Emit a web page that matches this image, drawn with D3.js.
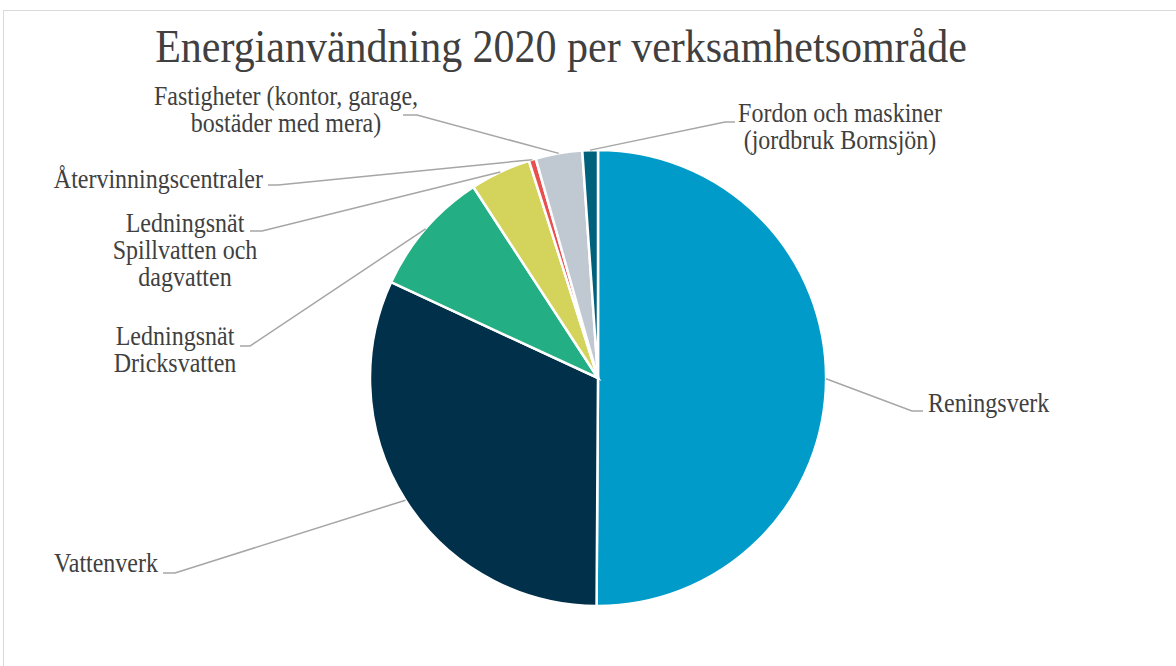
<!DOCTYPE html>
<meta charset="utf-8">
<style>
body { margin: 0; background: #fff; }
.label { font-family: "Liberation Serif", "Times New Roman", serif; fill: #404040; }
.leader { fill: none; stroke: #a6a6a6; stroke-width: 1.5px; }
</style>
<body>
<svg width="1176" height="666"></svg>
<script src="https://d3js.org/d3.v7.min.js"></script>
<script>

// data, clockwise from 12 o'clock (percent of total)
var categories = ["Reningsverk", "Vattenverk", "Ledningsnät Dricksvatten",
  "Ledningsnät Spillvatten och dagvatten", "Återvinningscentraler",
  "Fastigheter (kontor, garage, bostäder med mera)",
  "Fordon och maskiner (jordbruk Bornsjön)"];
var shares = [50.1, 31.8, 8.9, 4.3, 0.5, 3.3, 1.1];
var colors = ["#009bc8", "#00304a", "#23ae84", "#d4d35b", "#e8504f", "#c0c9d2", "#00617c"];
var labelLines = [
  ["Reningsverk"],
  ["Vattenverk"],
  ["Ledningsnät", "Dricksvatten"],
  ["Ledningsnät", "Spillvatten och", "dagvatten"],
  ["Återvinningscentraler"],
  ["Fastigheter (kontor, garage,", "bostäder med mera)"],
  ["Fordon och maskiner", "(jordbruk Bornsjön)"]
];

var svg = d3.select("svg");
var stretch = 1.1; // the source text is a bit taller than the font

svg.append("rect")
    .attr("x", 3.5).attr("y", 10.5)
    .attr("width", 1200).attr("height", 700)
    .attr("fill", "none").attr("stroke", "#d9d9d9");

svg.append("g")
    .attr("transform", "translate(561,62) scale(1," + stretch + ")")
  .append("text")
    .attr("class", "label")
    .attr("text-anchor", "middle")
    .attr("font-size", "42px")
    .attr("fill", "#595959")
    .text("Energianvändning 2020 per verksamhetsområde");

var cx = 598, cy = 378, r = 228;

var pie = d3.pie().sort(null).value(function(d) { return d; });
var arcs = pie(shares);
var arc = d3.arc().innerRadius(0).outerRadius(r);

var g = svg.append("g").attr("transform", "translate(" + cx + "," + cy + ")");

g.selectAll("path.slice")
    .data(arcs)
  .enter().append("path")
    .attr("class", "slice")
    .attr("d", arc)
    .attr("fill", function(d, i) { return colors[i]; })
    .attr("stroke", "#fff")
    .attr("stroke-width", 2.5);

// label placement: text anchor point, alignment, elbow for the leader
var layout = [
  {x: 928, y: 412, anchor: "start", elbow: [[912, 411], [923, 411]]},
  {x: 158, y: 572, anchor: "end", elbow: [[175, 573], [163, 573]]},
  {x: 175, y: 345, anchor: "middle", elbow: [[250, 346], [240, 346]]},
  {x: 185, y: 232, anchor: "middle", elbow: [[262, 231], [250, 231]]},
  {x: 263, y: 188, anchor: "end", elbow: [[278, 185], [268, 185]]},
  {x: 286, y: 105, anchor: "middle", elbow: [[417, 115], [403, 115]]},
  {x: 840, y: 122, anchor: "middle", elbow: [[725, 122], [735, 122]]}
];
var lineGap = 27;

arcs.forEach(function(a, i) {
  var mid = (a.startAngle + a.endAngle) / 2;
  var px = cx + r * Math.sin(mid), py = cy - r * Math.cos(mid);
  var L = layout[i];
  var pts = [[px, py]].concat(L.elbow);
  svg.append("path")
      .attr("class", "leader")
      .attr("d", d3.line()(pts));

  var t = svg.append("g")
      .attr("transform", "translate(" + L.x + "," + L.y + ") scale(1," + stretch + ")")
    .append("text")
      .attr("class", "label")
      .attr("font-size", "24px")
      .attr("text-anchor", L.anchor);
  labelLines[i].forEach(function(s, k) {
    t.append("tspan").attr("x", 0).attr("y", k * lineGap / stretch).text(s);
  });
});

</script>
</body>
